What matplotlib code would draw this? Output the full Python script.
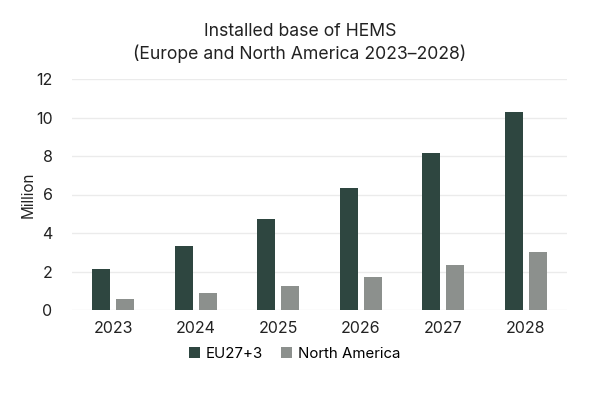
import numpy as np
import matplotlib
matplotlib.use('Agg')
import matplotlib.pyplot as plt

plt.rcParams['font.family'] = ['Inter', 'DejaVu Sans']

years = ['2023', '2024', '2025', '2026', '2027', '2028']
eu = [2.13, 3.34, 4.73, 6.32, 8.16, 10.27]
na = [0.57, 0.87, 1.25, 1.71, 2.32, 3.01]
series_names = ['EU27+3', 'North America']
colors = ['#2e4640', '#8c908d']

fig = plt.figure(figsize=(6, 4), dpi=100)
ax = fig.add_axes([0.12, 0.225, 0.825, 0.5775])

x = np.arange(len(years))
w = 0.215
off = 0.145
ax.bar(x - off, eu, w, color=colors[0], label=series_names[0], zorder=3)
ax.bar(x + off, na, w, color=colors[1], label=series_names[1], zorder=3)

ax.set_xlim(-0.5, len(years) - 0.5)
ax.set_ylim(0, 12)
ax.set_yticks(range(0, 13, 2))
ax.set_xticks(x)
ax.set_xticklabels(years)
ax.grid(axis='y', color='#ebebeb', linewidth=1, zorder=0)
for s in ax.spines.values():
    s.set_visible(False)
ax.tick_params(length=0, labelsize=11.5, colors='#222222')
ax.tick_params(axis='y', pad=14)
ax.tick_params(axis='x', pad=8)
ax.set_ylabel('Million', fontsize=11, color='#222222', labelpad=0)

fig.text(0.5, 0.922, 'Installed base of HEMS', ha='center', va='center',
         fontsize=12.7, color='#222222')
fig.text(0.5, 0.866, '(Europe and North America 2023\u20132028)', ha='center',
         va='center', fontsize=12.7, color='#222222')

ax.legend(loc='upper center', bbox_to_anchor=(0.45, -0.1), ncol=2, frameon=False,
          fontsize=10.8, handlelength=0.7, handleheight=0.7, handletextpad=0.4,
          columnspacing=1.2)

fig.savefig('out.png', dpi=100)
